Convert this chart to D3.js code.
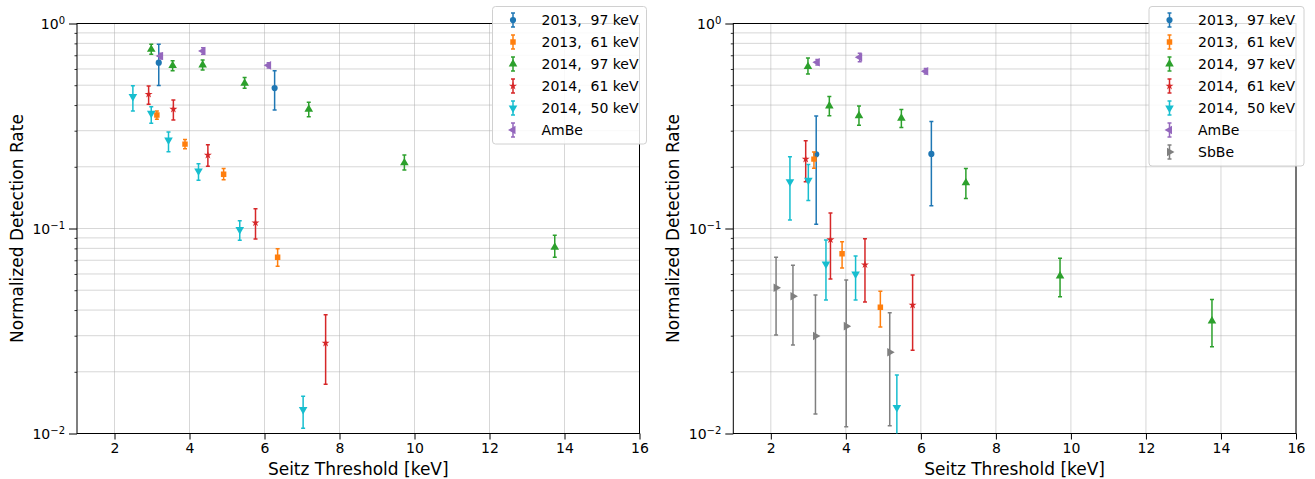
<!DOCTYPE html>
<html>
<head>
<meta charset="utf-8">
<script src="https://cdn.jsdelivr.net/npm/d3@7"></script>
<style>
  body { margin: 0; background: #fff; }
  text { font-family: "DejaVu Sans", sans-serif; fill: #000; }
</style>
</head>
<body>
<svg id="chart" width="1315" height="479"></svg>
<script>
// Series info shared by both panels
const seriesNames = ["2013,\u00a0\u00a097\u00a0keV", "2013,\u00a0\u00a061\u00a0keV", "2014,\u00a0\u00a097\u00a0keV",
                     "2014,\u00a0\u00a061\u00a0keV", "2014,\u00a0\u00a050\u00a0keV", "AmBe", "SbBe"];
const seriesColors = ["#1f77b4", "#ff7f0e", "#2ca02c", "#d62728", "#17becf", "#9467bd", "#7f7f7f"];
const seriesShapes = ["circle", "square", "up", "star", "down", "left", "right"];

// Points: [threshold keV, rate, lower, upper]
// Left panel
const left2013_97 = [[3.18, 0.644, 0.499, 0.792], [6.27, 0.484, 0.379, 0.589]];
const left2013_61 = [[3.13, 0.358, 0.341, 0.374], [3.88, 0.258, 0.245, 0.272], [4.91, 0.184, 0.173, 0.196],
                     [6.35, 0.0724, 0.0655, 0.0797]];
const left2014_97 = [[2.98, 0.748, 0.708, 0.792], [3.55, 0.623, 0.589, 0.659], [4.35, 0.627, 0.593, 0.664],
                     [5.47, 0.511, 0.483, 0.546], [7.18, 0.382, 0.351, 0.413], [9.73, 0.209, 0.193, 0.228],
                     [13.74, 0.081, 0.0724, 0.0927]];
const left2014_61 = [[2.91, 0.452, 0.404, 0.496], [3.57, 0.382, 0.338, 0.424], [4.49, 0.228, 0.201, 0.256],
                     [5.76, 0.1067, 0.0889, 0.125], [7.63, 0.0276, 0.0174, 0.038]];
const left2014_50 = [[2.49, 0.44, 0.374, 0.497], [2.98, 0.365, 0.326, 0.393], [3.44, 0.270, 0.237, 0.296],
                     [4.24, 0.191, 0.172, 0.207], [5.34, 0.0989, 0.0876, 0.109], [7.03, 0.0131, 0.0106, 0.0152]];
const leftAmBe = [[3.23, 0.694, 0.672, 0.716], [4.36, 0.734, 0.708, 0.762], [6.11, 0.625, 0.606, 0.644]];

// Right panel
const right2013_97 = [[3.21, 0.230, 0.105, 0.354], [6.28, 0.231, 0.129, 0.333]];
const right2013_61 = [[3.15, 0.218, 0.197, 0.236], [3.90, 0.0754, 0.0642, 0.0862], [4.92, 0.0413, 0.0331, 0.0494]];
const right2014_97 = [[2.99, 0.616, 0.567, 0.679], [3.56, 0.396, 0.355, 0.44], [4.35, 0.355, 0.319, 0.396],
                      [5.48, 0.345, 0.311, 0.381], [7.2, 0.167, 0.140, 0.196], [9.71, 0.0587, 0.0465, 0.0716],
                      [13.76, 0.0354, 0.0265, 0.0451]];
const right2014_61 = [[2.93, 0.218, 0.169, 0.268], [3.59, 0.0882, 0.0567, 0.119], [4.51, 0.0666, 0.0438, 0.0892],
                      [5.78, 0.0423, 0.0255, 0.0593]];
const right2014_50 = [[2.51, 0.169, 0.110, 0.224], [3.0, 0.172, 0.137, 0.205], [3.47, 0.0671, 0.0448, 0.0879],
                      [4.26, 0.060, 0.0448, 0.0734], [5.36, 0.0134, 0.0075, 0.0193]];
const rightAmBe = [[3.24, 0.647, 0.627, 0.667], [4.37, 0.684, 0.651, 0.716], [6.13, 0.585, 0.567, 0.603]];
const rightSbBe = [[2.14, 0.0514, 0.0302, 0.0724], [2.59, 0.0467, 0.027, 0.0661], [3.19, 0.0299, 0.01245, 0.0474],
                   [4.01, 0.0334, 0.0108, 0.0561], [5.17, 0.0249, 0.0109, 0.0388]];

// Axis ticks
const xTicks = [2, 4, 6, 8, 10, 12, 14, 16];
const yMajor = [0.01, 0.1, 1];
const yMinor = [2, 3, 4, 5, 6, 7, 8, 9].flatMap(m => [m * 0.01, m * 0.1]);

const svg = d3.select('#chart');

function symbolPath(shape) {
    if (shape === 'circle') return { d: d3.symbol(d3.symbolCircle, 30)(), rot: 0 };
    if (shape === 'square') return { d: d3.symbol(d3.symbolSquare, 30)(), rot: 0 };
    if (shape === 'star') return { d: d3.symbol(d3.symbolStar, 20)(), rot: 0 };
    const rot = { up: 0, down: 180, left: -90, right: 90 }[shape];
    return { d: d3.symbol(d3.symbolTriangle, 32)(), rot: rot };
}

function drawPanel(box, seriesList, legendBox, clipId) {
    const x = d3.scaleLinear().domain([1, 16]).range([box.x0, box.x1]);
    const y = d3.scaleLog().domain([0.01, 1]).range([box.y1, box.y0]);
    const g = svg.append('g');

    // Grid
    const grid = g.append('g').attr('stroke', '#b0b0b0').attr('stroke-opacity', 0.5).attr('stroke-width', 1);
    grid.selectAll('line.h')
        .data(yMajor.concat(yMinor))
        .join('line')
        .attr('x1', box.x0).attr('x2', box.x1)
        .attr('y1', d => y(d)).attr('y2', d => y(d));
    grid.selectAll('line.v')
        .data(xTicks)
        .join('line')
        .attr('x1', d => x(d)).attr('x2', d => x(d))
        .attr('y1', box.y0).attr('y2', box.y1);

    // X axis
    const xAxis = g.append('g')
        .attr('transform', `translate(0,${box.y1})`)
        .call(d3.axisBottom(x).tickValues(xTicks).tickSize(6).tickPadding(4).tickFormat(d3.format('d')));
    xAxis.select('.domain').remove();
    xAxis.selectAll('text').style('font-size', '14px').attr('fill', '#000').attr('font-family', 'DejaVu Sans');
    xAxis.selectAll('line').attr('stroke', '#000').attr('stroke-width', 1);

    // Y axis minor
    const yMin = g.append('g')
        .attr('transform', `translate(${box.x0},0)`)
        .call(d3.axisLeft(y).tickValues(yMinor).tickSize(2.5).tickFormat(''));
    yMin.select('.domain').remove();
    yMin.selectAll('line').attr('stroke', '#000').attr('stroke-width', 0.8);

    // Y axis major
    const yAx = g.append('g')
        .attr('transform', `translate(${box.x0},0)`)
        .call(d3.axisLeft(y).tickValues(yMajor).tickSize(8).tickPadding(4).tickFormat(''));
    yAx.select('.domain').remove();
    yAx.selectAll('line').attr('stroke', '#000').attr('stroke-width', 1);
    yAx.selectAll('.tick').each(function(d) {
        const t = d3.select(this).select('text')
            .attr('x', -12).attr('dy', '0.35em')
            .attr('text-anchor', 'end')
            .style('font-size', '14px').attr('fill', '#000');
        t.text(null);
        t.append('tspan').text('10');
        t.append('tspan').attr('dy', '-0.5em').style('font-size', '10px')
            .text(String(Math.round(Math.log10(d))).replace('-', '\u2212'));
    });

    // Frame
    g.append('rect')
        .attr('x', box.x0).attr('y', box.y0)
        .attr('width', box.x1 - box.x0).attr('height', box.y1 - box.y0)
        .attr('fill', 'none').attr('stroke', '#000').attr('stroke-width', 1);

    // Labels
    g.append('text')
        .attr('x', (box.x0 + box.x1) / 2).attr('y', 475)
        .attr('text-anchor', 'middle').style('font-size', '17px')
        .text('Seitz Threshold [keV]');
    g.append('text')
        .attr('transform', `translate(${box.x0 - 54},${(box.y0 + box.y1) / 2}) rotate(-90)`)
        .attr('text-anchor', 'middle').style('font-size', '17px')
        .text('Normalized Detection Rate');

    // Clip
    svg.append('clipPath').attr('id', clipId)
        .append('rect')
        .attr('x', box.x0).attr('y', box.y0)
        .attr('width', box.x1 - box.x0).attr('height', box.y1 - box.y0);

    const plot = g.append('g').attr('clip-path', `url(#${clipId})`);
    seriesList.forEach(s => {
        const col = seriesColors[s.idx];
        const sym = symbolPath(seriesShapes[s.idx]);
        const sg = plot.append('g');
        sg.selectAll('line.bar')
            .data(s.data)
            .join('line')
            .attr('x1', d => x(d[0])).attr('x2', d => x(d[0]))
            .attr('y1', d => y(d[2])).attr('y2', d => y(d[3]))
            .attr('stroke', col).attr('stroke-width', 1.5);
        sg.selectAll('line.cap')
            .data(s.data.flatMap(d => [[d[0], d[2]], [d[0], d[3]]]))
            .join('line')
            .attr('x1', d => x(d[0]) - 2).attr('x2', d => x(d[0]) + 2)
            .attr('y1', d => y(d[1])).attr('y2', d => y(d[1]))
            .attr('stroke', col).attr('stroke-width', 1.5);
        sg.selectAll('path')
            .data(s.data)
            .join('path')
            .attr('d', sym.d)
            .attr('transform', d => `translate(${x(d[0])},${y(d[1])}) rotate(${sym.rot})`)
            .attr('fill', col);
    });

    // Legend
    const lg = g.append('g');
    const rowH = 22;
    lg.append('rect')
        .attr('x', legendBox.x).attr('y', legendBox.y)
        .attr('width', legendBox.w).attr('height', 5.5 + rowH * seriesList.length)
        .attr('rx', 3)
        .attr('fill', '#fff').attr('fill-opacity', 0.85)
        .attr('stroke', '#d0d0d0').attr('stroke-width', 1);
    seriesList.forEach((s, i) => {
        const cy = legendBox.y + 13.5 + i * rowH;
        const mx = legendBox.x + 20.5;
        const col = seriesColors[s.idx];
        const sym = symbolPath(seriesShapes[s.idx]);
        lg.append('line').attr('x1', mx).attr('x2', mx).attr('y1', cy - 7).attr('y2', cy + 7)
            .attr('stroke', col).attr('stroke-width', 1.5);
        [cy - 7, cy + 7].forEach(cyy => {
            lg.append('line').attr('x1', mx - 2).attr('x2', mx + 2).attr('y1', cyy).attr('y2', cyy)
                .attr('stroke', col).attr('stroke-width', 1.5);
        });
        lg.append('path').attr('d', sym.d)
            .attr('transform', `translate(${mx},${cy}) rotate(${sym.rot})`)
            .attr('fill', col);
        lg.append('text')
            .attr('x', legendBox.x + 49).attr('y', cy + 5)
            .style('font-size', '14px')
            .text(seriesNames[s.idx]);
    });
}

drawPanel({ x0: 77, x1: 639.5, y0: 23.5, y1: 433.5 }, [
    { idx: 0, data: left2013_97 },
    { idx: 1, data: left2013_61 },
    { idx: 2, data: left2014_97 },
    { idx: 3, data: left2014_61 },
    { idx: 4, data: left2014_50 },
    { idx: 5, data: leftAmBe }
], { x: 492.5, y: 6.5, w: 154 }, 'clipL');

drawPanel({ x0: 733.3, x1: 1296, y0: 23.5, y1: 433.5 }, [
    { idx: 0, data: right2013_97 },
    { idx: 1, data: right2013_61 },
    { idx: 2, data: right2014_97 },
    { idx: 3, data: right2014_61 },
    { idx: 4, data: right2014_50 },
    { idx: 5, data: rightAmBe },
    { idx: 6, data: rightSbBe }
], { x: 1149, y: 6.5, w: 155 }, 'clipR');
</script>
</body>
</html>
